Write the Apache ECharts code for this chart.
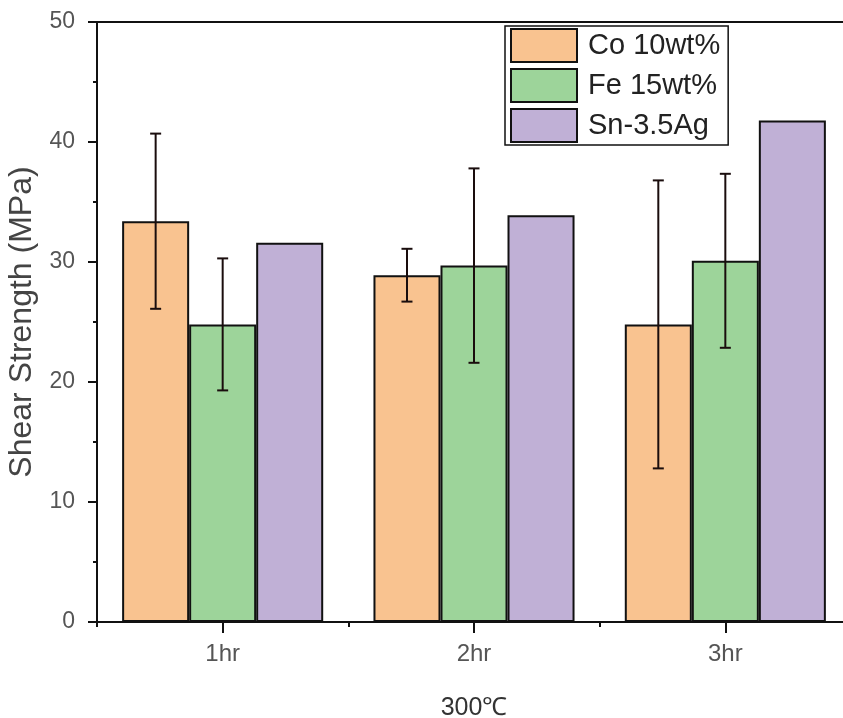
<!DOCTYPE html>
<html>
<head>
<meta charset="utf-8">
<script src="https://cdn.jsdelivr.net/npm/echarts@6/dist/echarts.min.js"></script>
<style>html,body{margin:0;padding:0;background:#fff;}#c{width:843px;height:718px;}</style>
</head>
<body>
<div id="c"></div>
<script>
var categories = ['1hr', '2hr', '3hr'];
var seriesNames = ['Co 10wt%', 'Fe 15wt%', 'Sn-3.5Ag'];
var coValues = [33.4, 28.9, 24.8];
var coErrors = [7.3, 2.2, 12.0];
var feValues = [24.8, 29.7, 30.1];
var feErrors = [5.5, 8.1, 7.25];
var snValues = [31.6, 33.9, 41.8];
var yTicks = { min: 0, max: 50, interval: 10 };

var colors = ['#F9C390', '#9DD49A', '#C0B0D6'];
var CAT_GAP = 0.2;

function errSeries(name, values, errors, idx) {
  var data = values.map(function (v, i) { return [i, v - errors[i], v + errors[i]]; });
  return {
    type: 'custom',
    name: name,
    xAxisIndex: 0,
    silent: true,
    z: 10,
    data: data,
    renderItem: function (params, api) {
      var band = api.size([1, 0])[0];
      var bw = band * (1 - CAT_GAP) / 3;
      var c = api.coord([api.value(0), api.value(1)]);
      var x = c[0] + (idx - 1) * bw;
      var yLo = c[1];
      var yHi = api.coord([api.value(0), api.value(2)])[1];
      var cap = 5.5;
      var st = { stroke: '#1a0d0d', lineWidth: 2 };
      return {
        type: 'group',
        children: [
          { type: 'line', shape: { x1: x, y1: yLo, x2: x, y2: yHi }, style: st },
          { type: 'line', shape: { x1: x - cap, y1: yHi, x2: x + cap, y2: yHi }, style: st },
          { type: 'line', shape: { x1: x - cap, y1: yLo, x2: x + cap, y2: yLo }, style: st }
        ]
      };
    }
  };
}

function barSeries(name, values, color) {
  return {
    type: 'bar',
    name: name,
    xAxisIndex: 0,
    data: values,
    barGap: '0%',
    barCategoryGap: (CAT_GAP * 100) + '%',
    itemStyle: { color: color, borderColor: '#111', borderWidth: 2 }
  };
}

var chart = echarts.init(document.getElementById('c'), null, { renderer: 'canvas' });
chart.setOption({
  animation: false,
  backgroundColor: '#fff',
  grid: { left: 97, top: 22, bottom: 96, right: -8, containLabel: false, outerBoundsMode: 'none' },
  legend: {
    data: seriesNames,
    orient: 'vertical',
    left: 505,
    top: 26,
    icon: 'rect',
    itemWidth: 66,
    itemHeight: 33,
    itemGap: 5,
    padding: [2, 8, 2, 5],
    borderColor: '#111',
    borderWidth: 1.5,
    backgroundColor: '#fff',
    textStyle: { fontFamily: 'Liberation Sans', fontSize: 29, color: '#222', padding: [0, 0, 0, 6] },
    itemStyle: { borderColor: '#111', borderWidth: 2 }
  },
  xAxis: [
    {
      type: 'category',
      data: categories,
      position: 'bottom',
      name: '300℃',
      nameLocation: 'middle',
      nameGap: 74,
      nameTextStyle: { fontFamily: 'Liberation Sans', fontSize: 25, color: '#333' },
      axisLine: { show: true, lineStyle: { color: '#111', width: 2 } },
      axisTick: { show: true, alignWithLabel: true, length: 11, lineStyle: { color: '#111', width: 2 } },
      axisLabel: { margin: 20, fontFamily: 'Liberation Sans', fontSize: 24, color: '#555' },
      splitLine: { show: false }
    },
    {
      type: 'category',
      data: categories,
      position: 'bottom',
      axisLine: { show: false },
      axisTick: { show: true, alignWithLabel: false, length: 5, lineStyle: { color: '#111', width: 2 } },
      axisLabel: { show: false },
      splitLine: { show: false }
    },
    {
      type: 'category',
      data: categories,
      position: 'top',
      axisLine: { show: true, lineStyle: { color: '#111', width: 2 } },
      axisTick: { show: false },
      axisLabel: { show: false },
      splitLine: { show: false }
    }
  ],
  yAxis: {
    type: 'value',
    min: yTicks.min,
    max: yTicks.max,
    interval: yTicks.interval,
    name: 'Shear Strength (MPa)',
    nameLocation: 'middle',
    nameGap: 58,
    nameTextStyle: { fontFamily: 'Liberation Sans', fontSize: 32, color: '#444' },
    axisLine: { show: true, lineStyle: { color: '#111', width: 2 } },
    axisTick: { show: true, length: 9, lineStyle: { color: '#111', width: 2 } },
    minorTick: { show: true, splitNumber: 2, length: 4, lineStyle: { color: '#111', width: 2 } },
    axisLabel: { margin: 22, fontFamily: 'Liberation Sans', fontSize: 23, color: '#555' },
    splitLine: { show: false }
  },
  series: [
    barSeries(seriesNames[0], coValues, colors[0]),
    barSeries(seriesNames[1], feValues, colors[1]),
    barSeries(seriesNames[2], snValues, colors[2]),
    errSeries(seriesNames[0], coValues, coErrors, 0),
    errSeries(seriesNames[1], feValues, feErrors, 1)
  ]
});
</script>
</body>
</html>
